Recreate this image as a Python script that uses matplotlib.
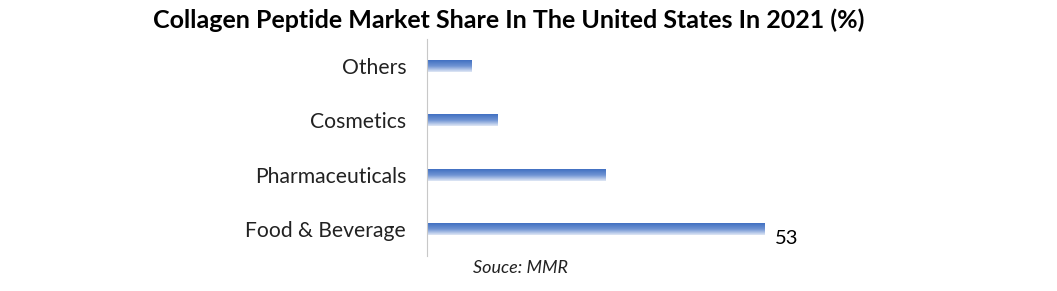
import numpy as np
import matplotlib.pyplot as plt
from matplotlib.colors import LinearSegmentedColormap

categories = ['Food & Beverage', 'Pharmaceuticals', 'Cosmetics', 'Others']
shares = [53, 28, 11, 7]
title = 'Collagen Peptide Market Share In The United States In 2021 (%)'
source = 'Souce: MMR'

plt.rcParams['font.family'] = ['Lato', 'DejaVu Sans']

fig = plt.figure(figsize=(10.57, 2.91), dpi=100)
ax = fig.add_axes([0.404, 0.12, 0.362, 0.746])

ypos = np.arange(len(categories))
bars = ax.barh(ypos, shares, height=0.22, color='none')

# vertical gradient on each bar, darker blue on top
grad = np.linspace(0, 1, 50).reshape(-1, 1)
cmap = LinearSegmentedColormap.from_list('g', ['#4170c2', '#6f93d3', '#dfe7f5'])
for b in bars:
    x0, y0 = b.get_x(), b.get_y()
    w, h = b.get_width(), b.get_height()
    ax.imshow(grad, cmap=cmap, aspect='auto', extent=[x0, x0 + w, y0, y0 + h],
              origin='upper', zorder=2)

ax.set_xlim(0, 60)
ax.set_ylim(-0.5, len(categories) - 0.5)
ax.set_yticks(ypos)
ax.set_yticklabels(categories, fontsize=15.2, color='#222222')
ax.tick_params(axis='y', length=0, pad=15)
ax.set_xticks([])
for s in ['top', 'right', 'bottom']:
    ax.spines[s].set_visible(False)
ax.spines['left'].set_color('#c8c8c8')
ax.spines['left'].set_linewidth(0.8)

ax.text(shares[0] + 1.6, ypos[0] - 0.18, str(shares[0]), fontsize=14.5, va='center', ha='left')

fig.text(0.481, 0.93, title, fontsize=18, fontweight='bold', ha='center', va='center')
fig.text(0.492, 0.078, source, fontsize=13, style='italic', ha='center', va='center', color='#222222')

fig.savefig('out.png', dpi=100)
